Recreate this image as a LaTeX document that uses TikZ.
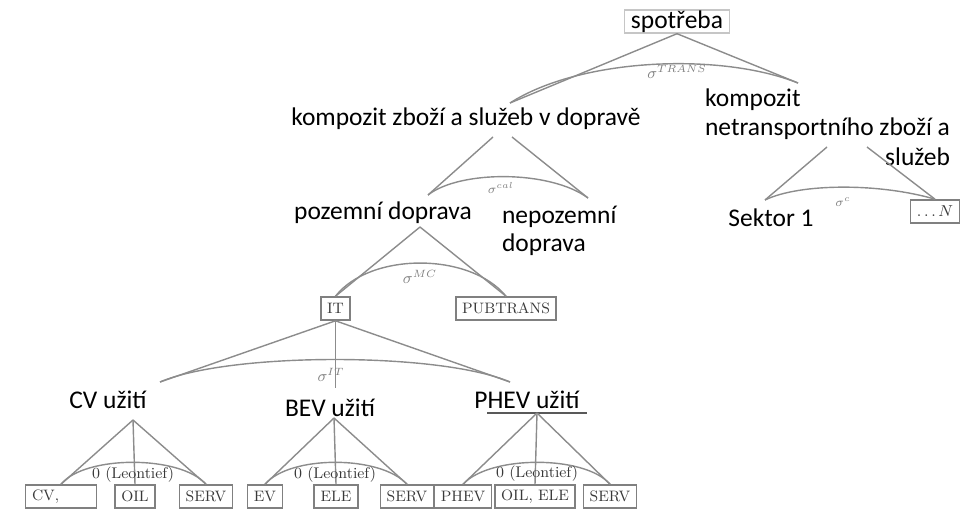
\documentclass[tikz,border=0pt]{standalone}
\usepackage{fontspec}
\newfontfamily\carlito{Carlito}
\usetikzlibrary{positioning}
\definecolor{linegray}{gray}{0.55}
\definecolor{boxgray}{gray}{0.5}
\definecolor{sigmagray}{gray}{0.5}
\tikzset{
  labelcz/.style={font=\carlito\fontsize{14.5}{16.5}\selectfont, inner sep=1pt},
  catbox/.style={draw=boxgray, line width=0.9pt, text=gray!45!black, font=\fontsize{8.6}{10}\selectfont,
    inner xsep=3.6pt, inner ysep=0pt, minimum height=0.46cm},
  link/.style={draw=linegray, line width=0.8pt},
  sigmalbl/.style={text=sigmagray, font=\fontsize{9}{10}\selectfont, inner sep=0pt},
  leontief/.style={text=gray!45!black, font=\fontsize{8.8}{10}\selectfont, inner sep=0pt}
}
\begin{document}
\begin{tikzpicture}[x=0.02cm, y=-0.02cm]
        \useasboundingbox (0,0) rectangle (972,510);

        % Top level
        \node[labelcz, draw=gray!45, line width=0.8pt, inner sep=0pt, minimum width=2.1cm, minimum height=0.46cm] (spotreba) at (677,21.5) {spotřeba};
        \node[labelcz] (kompDoprava) at (466,119) {kompozit zboží a služeb v dopravě};
        \node[labelcz, anchor=west] (kompNetrans) at (703,130)
          {\fontsize{14.5}{17}\selectfont\begin{tabular}{@{}l@{}}kompozit\\netransportního zboží a\\\hfill služeb\end{tabular}};

        \coordinate (transL) at (510,103);
        \coordinate (transR) at (798,83);
        \draw[link] (spotreba.south) -- (transL);
        \draw[link] (spotreba.south) -- (transR);
        \draw[link] (transL) .. controls (580,58) and (720,52) .. (transR);
        \node[sigmalbl] (sigTrans) at (677,72) {$\sigma^{TRANS}$};

        % Transport composite
        \node[labelcz] (pozemni) at (383,213) {pozemní doprava};
        \node[labelcz, anchor=west, align=left, font=\carlito\fontsize{14.5}{15.9}\selectfont] (nepozemni) at (500,231) {nepozemní\\doprava};

        \coordinate (calTopL) at (493,137);
        \coordinate (calTopR) at (512,137);
        \coordinate (calL) at (428,195);
        \coordinate (calR) at (588,198);
        \draw[link] (calTopL) -- (calL);
        \draw[link] (calTopR) -- (calR);
        \draw[link] (calL) .. controls (460,170) and (550,170) .. (calR);
        \node[sigmalbl, font=\fontsize{7}{8}\selectfont] (sigCal) at (501,188) {$\sigma^{cal}$};

        % Land transport
        \node[catbox] (it) at (335.5,308.5) {IT};
        \node[catbox] (pubtrans) at (506,308.5) {PUBTRANS};
        \coordinate (pozApex) at (420,227);
        \draw[link] (pozApex) -- (it.north);
        \draw[link] (pozApex) -- (pubtrans.north);
        \draw[link] (it.north) .. controls (370,252) and (470,252) .. (pubtrans.north);
        \node[sigmalbl] (sigMC) at (420,277) {$\sigma^{MC}$};

        % Individual transport
        \node[labelcz] (cvUziti) at (108,400) {CV užití};
        \node[labelcz] (bevUziti) at (330,408) {BEV užití};
        \node[labelcz] (phevUziti) at (527,400) {PHEV užití};
        \coordinate (itL) at (160,382);
        \coordinate (itR) at (510,382);
        \coordinate (itDown) at (335.5,388);
        \draw[link] (it.south) -- (itL);
        \draw[link] (it.south) -- (itR);
        \draw[link] (it.south) -- (itDown);
        \draw[link] (itL) .. controls (230,352) and (440,352) .. (itR);
        \node[sigmalbl] (sigIT) at (331,375) {$\sigma^{IT}$};

        % Non-transport composite
        \node[labelcz] (sektor) at (771,218) {Sektor 1};
        \node[catbox, minimum width=0.88cm] (sektorN) at (935,211.5) {$\ldots N$};
        \coordinate (ntTopL) at (827,147);
        \coordinate (ntTopR) at (867,147);
        \coordinate (ntL) at (765,200);
        \draw[link] (ntTopL) -- (ntL);
        \draw[link] (ntTopR) -- (sektorN.north);
        \draw[link] (ntL) .. controls (800,183) and (880,183) .. (sektorN.north);
        \node[sigmalbl, font=\fontsize{7}{8}\selectfont] (sigC) at (843,202) {$\sigma^{c}$};

        % Bottom boxes
        \node[catbox, text width=33pt, align=left] (cv) at (61,496.5) {CV,};
        \node[catbox] (oilA) at (135,496.5) {OIL};
        \node[catbox] (servA) at (206,496.5) {SERV};
        \node[catbox] (ev) at (265,496.5) {EV};
        \node[catbox] (ele) at (336,496.5) {ELE};
        \node[catbox] (servB) at (407,496.5) {SERV};
        \node[catbox] (phev) at (463,496.5) {PHEV};
        \node[catbox] (oilEle) at (535,496.5) {OIL, ELE};
        \node[catbox] (servC) at (610,496.5) {SERV};

        % CV nest
        \coordinate (cvApex) at (133,420);
        \draw[link] (cvApex) -- (cv.north);
        \draw[link] (cvApex) -- (oilA.north);
        \draw[link] (cvApex) -- (servA.north);
        \draw[link] (cv.north) .. controls (85,455) and (180,455) .. (servA.north);
        \node[leontief] (leoA) at (133,475) {0 (Leontief)};

        % BEV nest
        \coordinate (bevApex) at (334,418);
        \draw[link] (bevApex) -- (ev.north);
        \draw[link] (bevApex) -- (ele.north);
        \draw[link] (bevApex) -- (servB.north);
        \draw[link] (ev.north) .. controls (290,455) and (380,455) .. (servB.north);
        \node[leontief] (leoB) at (335,475) {0 (Leontief)};

        % PHEV nest
        \coordinate (phevApex) at (537,413);
        \coordinate (phevUL) at (487,413);
        \coordinate (phevUR) at (587,413);
        \draw[line width=0.8pt, gray!70!black] (phevUL) -- (phevUR);
        \draw[link] (phevApex) -- (phev.north);
        \draw[link] (phevApex) -- (oilEle.north);
        \draw[link] (phevApex) -- (servC.north);
        \draw[link] (phev.north) .. controls (490,455) and (585,455) .. (servC.north);
        \node[leontief] (leoC) at (537,474) {0 (Leontief)};
    \end{tikzpicture}
\end{document}
